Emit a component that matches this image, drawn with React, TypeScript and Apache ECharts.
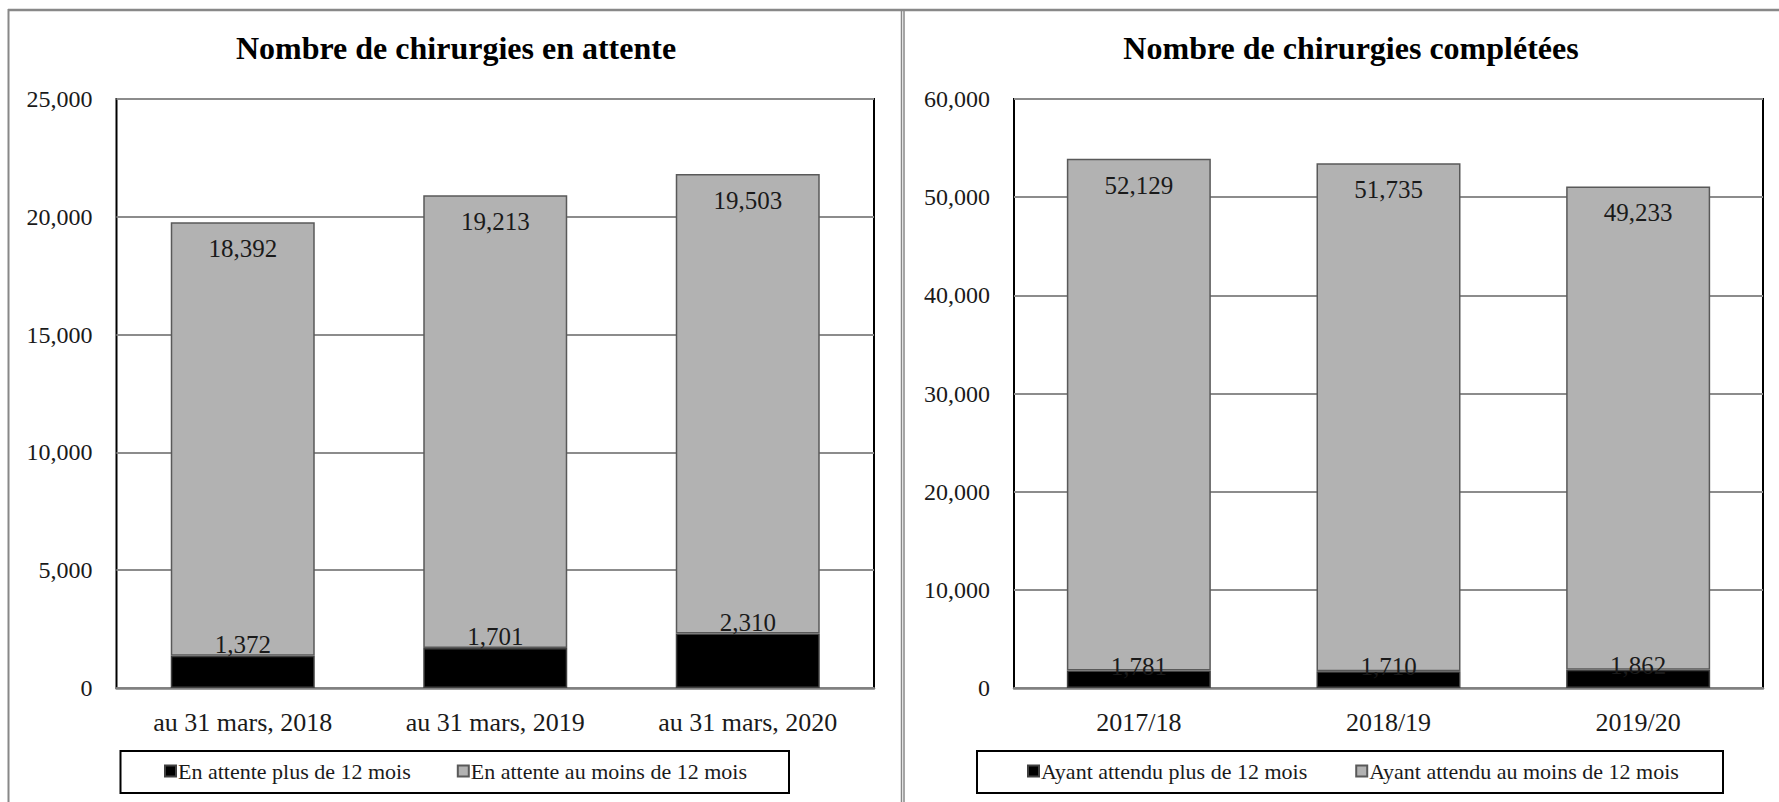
import React, { useEffect, useRef } from "react";
import * as echarts from "echarts";

const leftTitle = "Nombre de chirurgies en attente";
const rightTitle = "Nombre de chirurgies complétées";
const leftCategories = ["au 31 mars, 2018", "au 31 mars, 2019", "au 31 mars, 2020"];
const rightCategories = ["2017/18", "2018/19", "2019/20"];
const leftOver12 = [1372, 1701, 2310];
const leftUnder12 = [18392, 19213, 19503];
const rightOver12 = [1781, 1710, 1862];
const rightUnder12 = [52129, 51735, 49233];
const leftSeriesNames = ["En attente plus de 12 mois", "En attente au moins de 12 mois"];
const rightSeriesNames = ["Ayant attendu plus de 12 mois", "Ayant attendu au moins de 12 mois"];

const FONT = "'Liberation Serif', 'Times New Roman', serif";
const fmt = (v: number) => v.toLocaleString("en-US");

export default function App() {
  const ref = useRef<HTMLDivElement>(null);
  useEffect(() => {
    document.body.style.margin = "0";
    const chart = echarts.init(ref.current!, null, { renderer: "svg", width: 1779, height: 802 });
    const tickFont = { fontFamily: FONT, fontSize: 24, color: "#1a1a1a" };
    const grey = { color: "#b2b2b2", borderColor: "#595959", borderWidth: 1.5 };
    const black = { color: "#000000", borderColor: "#404040", borderWidth: 1.5 };
    const mkX = (gi: number, cats: string[]) => ({
      type: "category",
      gridIndex: gi,
      data: cats,
      axisLine: { show: true, lineStyle: { color: "#808080", width: 2.5 } },
      axisTick: { show: false },
      axisLabel: { fontFamily: FONT, fontSize: 26, color: "#1a1a1a", margin: 21 },
    });
    const mkY = (gi: number, max: number, interval: number) => ({
      type: "value",
      gridIndex: gi,
      min: 0,
      max,
      interval,
      axisLine: { show: false },
      axisTick: { show: false },
      splitLine: { show: true, lineStyle: { color: "#8c8c8c", width: 2 } },
      axisLabel: { ...tickFont, margin: 24, formatter: (v: number) => fmt(v) },
    });
    const lblGrey = {
      show: true,
      position: "insideTop",
      distance: 14,
      fontFamily: FONT,
      fontSize: 25,
      color: "#1a1a1a",
      formatter: (p: any) => fmt(p.value),
    };
    const lblBlack = (dist: number) => ({
      show: true,
      position: "top",
      distance: dist,
      fontFamily: FONT,
      fontSize: 25,
      color: "#1a1a1a",
      formatter: (p: any) => fmt(p.value),
    });
    const legendBase = {
      orient: "horizontal",
      itemWidth: 11,
      itemHeight: 11,
      padding: 0,
      icon: "rect",
      textStyle: { fontFamily: FONT, fontSize: 22, color: "#1a1a1a", padding: [0, 0, 0, -3] },
      top: 760,
    };
    chart.setOption({
      animation: false,
      backgroundColor: "#ffffff",
      textStyle: { fontFamily: FONT },
      grid: [
        { left: 116.5, top: 99, width: 757.5, height: 589, show: true, borderColor: "#000", borderWidth: 2, backgroundColor: "transparent" },
        { left: 1014, top: 99, width: 749, height: 589, show: true, borderColor: "#000", borderWidth: 2, backgroundColor: "transparent" },
      ],
      xAxis: [mkX(0, leftCategories), mkX(1, rightCategories)],
      yAxis: [mkY(0, 25000, 5000), mkY(1, 60000, 10000)],
      legend: [
        { ...legendBase, left: 164, itemGap: 46, data: leftSeriesNames },
        { ...legendBase, left: 1027, itemGap: 48, data: rightSeriesNames },
      ],
      series: [
        { name: leftSeriesNames[0], type: "bar", stack: "a", xAxisIndex: 0, yAxisIndex: 0, barWidth: 144, data: leftOver12, itemStyle: black, label: lblBlack(-1) },
        { name: leftSeriesNames[1], type: "bar", stack: "a", xAxisIndex: 0, yAxisIndex: 0, barWidth: 144, data: leftUnder12, itemStyle: grey, label: lblGrey },
        { name: rightSeriesNames[0], type: "bar", stack: "b", xAxisIndex: 1, yAxisIndex: 1, barWidth: 144, data: rightOver12, itemStyle: black, label: lblBlack(-8) },
        { name: rightSeriesNames[1], type: "bar", stack: "b", xAxisIndex: 1, yAxisIndex: 1, barWidth: 144, data: rightUnder12, itemStyle: grey, label: lblGrey },
      ],
      graphic: [
        { type: "line", shape: { x1: 8, y1: 10, x2: 1779, y2: 10 }, style: { stroke: "#888", lineWidth: 2.5 } },
        { type: "line", shape: { x1: 8.5, y1: 9, x2: 8.5, y2: 802 }, style: { stroke: "#888", lineWidth: 2 } },
        { type: "line", shape: { x1: 901.5, y1: 9, x2: 901.5, y2: 802 }, style: { stroke: "#888", lineWidth: 1.5 } },
        { type: "line", shape: { x1: 904, y1: 9, x2: 904, y2: 802 }, style: { stroke: "#888", lineWidth: 1.5 } },
        { type: "rect", shape: { x: 120.5, y: 751, width: 668.5, height: 42 }, style: { fill: "none", stroke: "#000", lineWidth: 2 } },
        { type: "rect", shape: { x: 977, y: 751, width: 746, height: 42 }, style: { fill: "none", stroke: "#000", lineWidth: 2 } },
        { type: "text", x: 456, y: 48, style: { text: leftTitle, fontFamily: FONT, fontSize: 32, fontWeight: "bold", fill: "#000", textAlign: "center", textVerticalAlign: "middle" } },
        { type: "text", x: 1351, y: 48, style: { text: rightTitle, fontFamily: FONT, fontSize: 32, fontWeight: "bold", fill: "#000", textAlign: "center", textVerticalAlign: "middle" } },
      ],
    });
    return () => chart.dispose();
  }, []);
  return <div ref={ref} style={{ position: "fixed", left: 0, top: 0, width: 1779, height: 802 }} />;
}
